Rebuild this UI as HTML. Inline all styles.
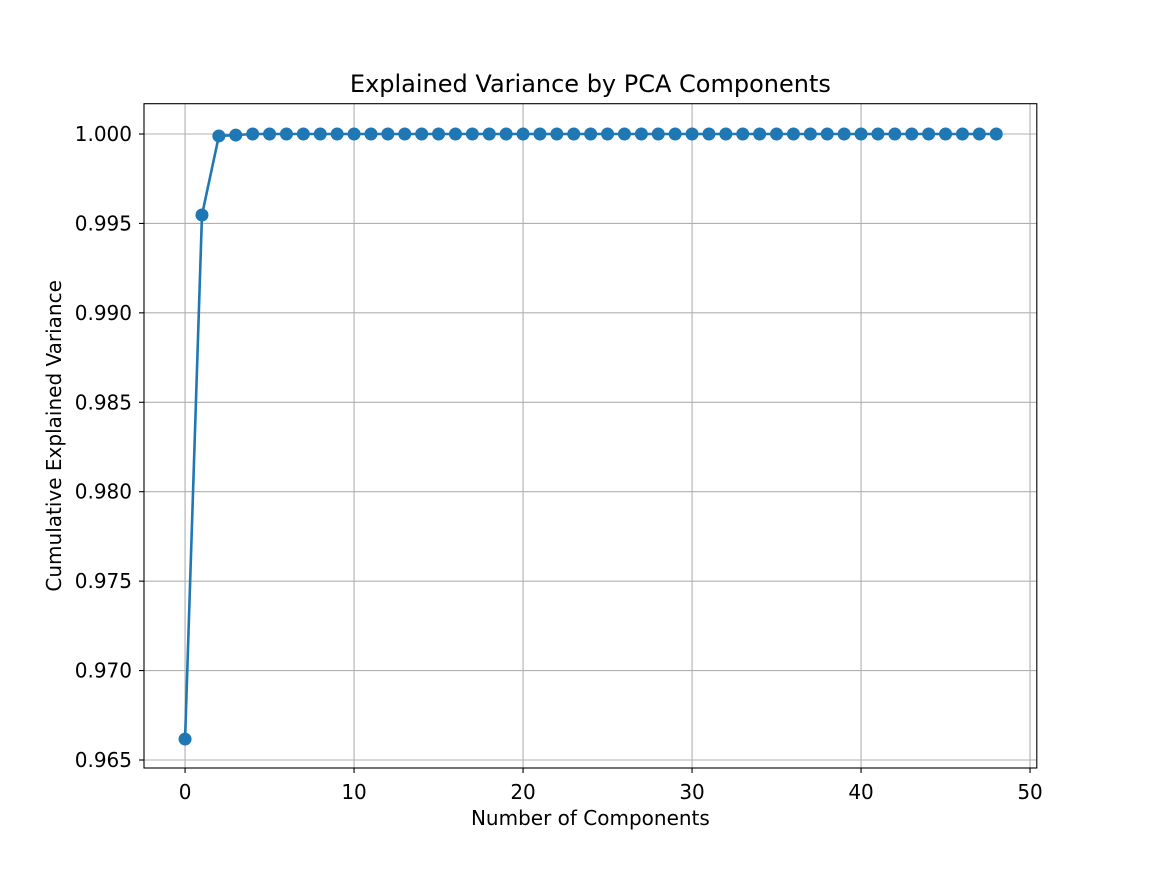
<!DOCTYPE html>
<html><head><meta charset="utf-8"><style>
body{margin:0;background:#fff}
svg text{font-family:"DejaVu Sans","Liberation Sans",sans-serif;fill:#000}
</style></head><body>
<svg id="chart" width="1152" height="864" xmlns="http://www.w3.org/2000/svg"></svg>
<script>
const components = Array.from({length:49},(_,i)=>i);
const cumVariance = [0.96617,0.99547,0.99989,0.99994].concat(new Array(45).fill(1.0));
const xTicks = [0,10,20,30,40,50];
const yTicks = [0.965,0.970,0.975,0.980,0.985,0.990,0.995,1.000];
const yTickLabels = ["0.965","0.970","0.975","0.980","0.985","0.990","0.995","1.000"];

const L=144,R=1036.8,T=103.7,B=768;
const xMin=-2.43,xMax=50.4,yMin=0.964553,yMax=1.001694;
const X=v=>L+(v-xMin)/(xMax-xMin)*(R-L);
const Y=v=>B-(v-yMin)/(yMax-yMin)*(B-T);
const svg=document.getElementById('chart');
const NS='http://www.w3.org/2000/svg';
function mk(tag,attrs,parent){const e=document.createElementNS(NS,tag);for(const k in attrs)e.setAttribute(k,attrs[k]);(parent||svg).appendChild(e);return e;}

const grid=mk('g',{});


xTicks.forEach(t=>{mk('line',{x1:X(t),x2:X(t),y1:T,y2:B,stroke:'#b0b0b0','stroke-width':1.1},grid);});
yTicks.forEach(t=>{mk('line',{x1:L,x2:R,y1:Y(t),y2:Y(t),stroke:'#b0b0b0','stroke-width':1.1},grid);});

const line=mk('polyline',{points:components.map((c,i)=>X(c)+','+Y(cumVariance[i])).join(' '),fill:'none',stroke:'#1f77b4','stroke-width':2.6,'stroke-linejoin':'round'});


components.forEach((c,i)=>{
  const p=mk('circle',{cx:X(c),cy:Y(cumVariance[i]),r:6.5,fill:'#1f77b4'});
  
  
});

const frame=mk('rect',{x:L,y:T,width:R-L,height:B-T,fill:'none',stroke:'#000','stroke-width':1.1});



xTicks.forEach(t=>{
  mk('line',{x1:X(t),x2:X(t),y1:B,y2:B+5,stroke:'#000','stroke-width':1.1});
  const tx=mk('text',{x:X(t),y:B+31,'font-size':'20','text-anchor':'middle'});
  tx.textContent=t;
  
  
});
yTicks.forEach((t,i)=>{
  mk('line',{x1:L-5,x2:L,y1:Y(t),y2:Y(t),stroke:'#000','stroke-width':1.1});
  const tx=mk('text',{x:L-12,y:Y(t)+7,'font-size':'20','text-anchor':'end'});
  tx.textContent=yTickLabels[i];
  
  
});

const title=mk('text',{x:(L+R)/2,y:92,'font-size':'24','text-anchor':'middle'});
title.textContent='Explained Variance by PCA Components';


const xl=mk('text',{x:(L+R)/2,y:825,'font-size':'20','text-anchor':'middle'});
xl.textContent='Number of Components';


const yl=mk('text',{x:0,y:0,'font-size':'20','text-anchor':'middle',transform:`translate(61,${(T+B)/2}) rotate(-90)`});
yl.textContent='Cumulative Explained Variance';


</script>
</body></html>
